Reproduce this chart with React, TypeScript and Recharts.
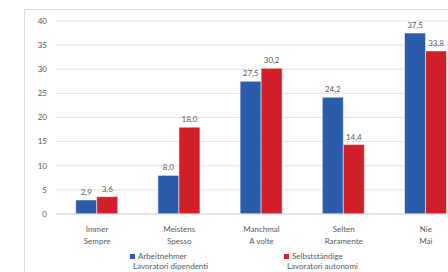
import { BarChart, Bar, XAxis, YAxis, CartesianGrid, LabelList } from 'recharts'

const categoriesDe = ['Immer', 'Meistens', 'Manchmal', 'Selten', 'Nie']
const categoriesIt = ['Sempre', 'Spesso', 'A volte', 'Raramente', 'Mai']
const employees = [2.9, 8.0, 27.5, 24.2, 37.5]
const selfEmployed = [3.6, 18.0, 30.2, 14.4, 33.8]
const yTicks = [0, 5, 10, 15, 20, 25, 30, 35, 40]

const seriesNames = [
    ['Arbeitnehmer', 'Lavoratori dipendenti'],
    ['Selbstständige', 'Lavoratori autonomi'],
]

const BLUE = '#2B5BAB'
const RED = '#D11F29'
const TEXT = '#595959'
const FONT = 'Lato, "Liberation Sans", sans-serif'

const data = categoriesDe.map((de, i) => ({
    de,
    it: categoriesIt[i],
    employees: employees[i],
    selfEmployed: selfEmployed[i],
}))

const fmt = (v: any) => Number(v).toFixed(1).replace('.', ',')

const CategoryTick = (props: any) => {
    const { x, y, payload, index } = props
    return (
        <text x={x} y={y} textAnchor="middle" fontSize={8} fill={TEXT} fontFamily={FONT}>
            <tspan x={x} dy={10}>{payload.value}</tspan>
            <tspan x={x} dy={12}>{categoriesIt[index]}</tspan>
        </text>
    )
}

export default function App() {
    const legendX = [130, 284]
    const colors = [BLUE, RED]
    return (
        <div style={{ position: 'absolute', left: 0, top: 0, width: 448, height: 272, overflow: 'hidden', background: '#fff', fontFamily: FONT }}>
            <div style={{ position: 'absolute', left: 24, top: 9, width: 600, height: 400, border: '1px solid #d9d9d9' }} />
            <div style={{ position: 'absolute', left: 0, top: 0 }}>
                <BarChart
                    width={500}
                    height={272}
                    data={data}
                    margin={{ top: 21, right: 33, left: 0, bottom: 28 }}
                    barCategoryGap="24%"
                    barGap={0}
                >
                    <CartesianGrid vertical={false} stroke="#e2e2e2" />
                    <XAxis
                        dataKey="de"
                        height={30}
                        tickLine={false}
                        axisLine={{ stroke: '#d9d9d9' }}
                        tick={<CategoryTick />}
                        interval={0}
                    />
                    <YAxis
                        width={56}
                        domain={[0, 40]}
                        ticks={yTicks}
                        tickLine={false}
                        axisLine={false}
                        tickSize={0}
                        tickMargin={9}
                        tick={{ fontSize: 8, fill: TEXT, fontFamily: FONT }}
                    />
                    <Bar dataKey="employees" fill={BLUE} stroke="#ffffff" strokeWidth={0.5} isAnimationActive={false}>
                        <LabelList dataKey="employees" position="top" offset={5} formatter={fmt} fontSize={8} fill={TEXT} fontFamily={FONT} />
                    </Bar>
                    <Bar dataKey="selfEmployed" fill={RED} stroke="#ffffff" strokeWidth={0.5} isAnimationActive={false}>
                        <LabelList dataKey="selfEmployed" position="top" offset={5} formatter={fmt} fontSize={8} fill={TEXT} fontFamily={FONT} />
                    </Bar>
                </BarChart>
            </div>
            {seriesNames.map((lines, i) => (
                <div key={i} style={{ position: 'absolute', left: legendX[i], top: 251, fontSize: 8, lineHeight: '10px', color: TEXT }}>
                    <span style={{ display: 'inline-block', width: 5, height: 5, background: colors[i], marginRight: 3, verticalAlign: 'middle' }} />
                    {lines[0]}
                    <div style={{ paddingLeft: 3 }}>{lines[1]}</div>
                </div>
            ))}
        </div>
    )
}
